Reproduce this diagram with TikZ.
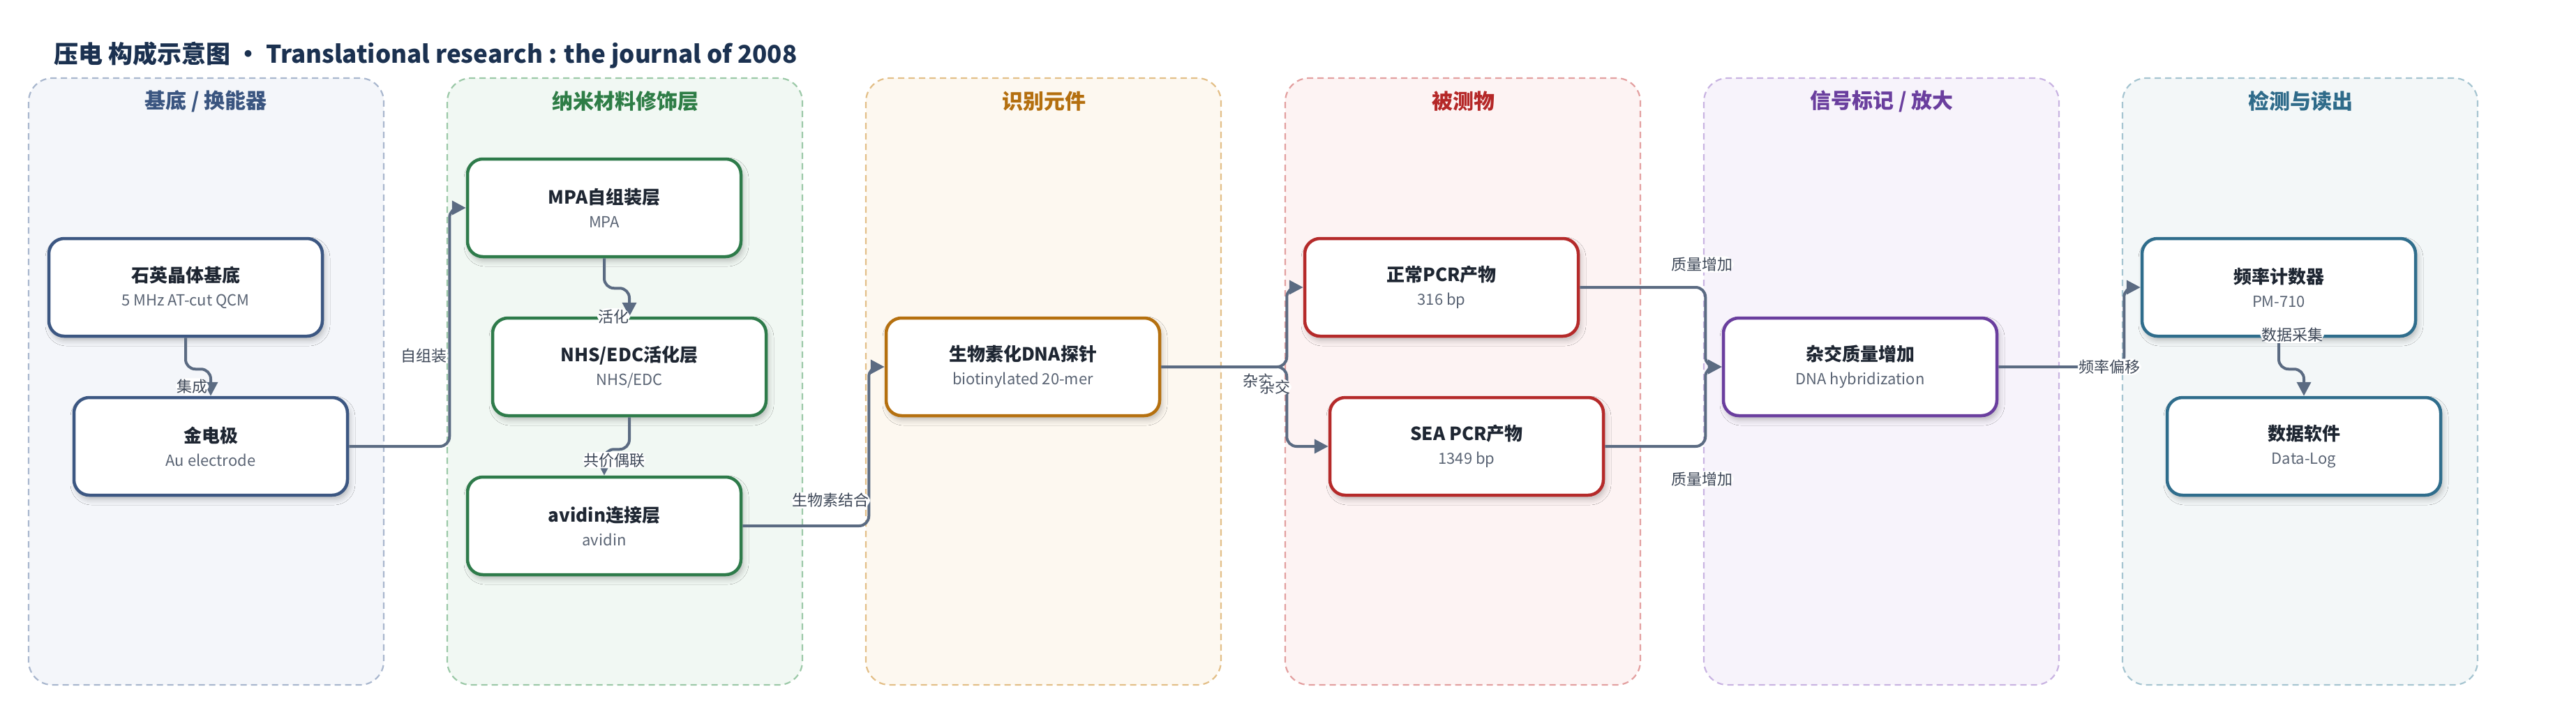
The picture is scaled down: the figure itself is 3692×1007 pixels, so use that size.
\documentclass[tikz,border=0pt]{standalone}
\usepackage{fontspec}
\setmainfont{Noto Sans CJK SC}
\usetikzlibrary{arrows.meta,shadows.blur}
\definecolor{titlec}{HTML}{1B3150}
\definecolor{edgec}{HTML}{5B6B82}
\definecolor{lblc}{HTML}{3D4757}
\definecolor{nodetxt}{HTML}{1E2632}
\definecolor{subc}{HTML}{5A6474}
\definecolor{bdA}{HTML}{A9B7CE}\definecolor{bgA}{HTML}{F4F6FA}\definecolor{hdA}{HTML}{3A5580}\definecolor{ndA}{HTML}{3C5782}
\definecolor{bdB}{HTML}{9CC9A8}\definecolor{bgB}{HTML}{F1F8F3}\definecolor{hdB}{HTML}{2E7D46}\definecolor{ndB}{HTML}{2E7B4A}
\definecolor{bdC}{HTML}{E3BF88}\definecolor{bgC}{HTML}{FDF8F0}\definecolor{hdC}{HTML}{B46F0F}\definecolor{ndC}{HTML}{B5700F}
\definecolor{bdD}{HTML}{E3A0A0}\definecolor{bgD}{HTML}{FDF3F3}\definecolor{hdD}{HTML}{B52828}\definecolor{ndD}{HTML}{B52A2A}
\definecolor{bdE}{HTML}{C9B4E2}\definecolor{bgE}{HTML}{F7F3FB}\definecolor{hdE}{HTML}{6A3E9E}\definecolor{ndE}{HTML}{6A3E9E}
\definecolor{bdF}{HTML}{A6C5D1}\definecolor{bgF}{HTML}{F3F7F8}\definecolor{hdF}{HTML}{2F6B8A}\definecolor{ndF}{HTML}{2F6D8C}
\newcommand{\boxtext}[2]{{\bfseries\fontsize{26}{34}\selectfont\color{nodetxt}#1}\\{\fontsize{22}{34}\selectfont\color{subc}#2}}

\begin{document}
\begin{tikzpicture}[x=1pt,y=-1pt,
  panel/.style={dashed,dash pattern=on 9pt off 6pt,line width=2.2pt,rounded corners=34pt},
  head/.style={font=\bfseries\fontsize{30}{34}\selectfont},
  box/.style={draw=#1,fill=white,line width=4.5pt,rounded corners=22pt,minimum width=392pt,minimum height=140pt,
    align=center,inner sep=0pt,font=\fontsize{22}{34}\selectfont,
    blur shadow={shadow xshift=3pt,shadow yshift=-6pt,shadow blur radius=8pt,shadow opacity=25}},
  link/.style={draw=edgec,line width=4pt,rounded corners=14pt,-{Triangle[length=20pt,width=20pt]}},
  lbl/.style={fill=white,text=lblc,font=\fontsize{22}{24}\selectfont,inner sep=1.5pt}]
\useasboundingbox (0,0) rectangle (3692,1007);
\node[anchor=west,inner sep=0pt,text=titlec,font=\bfseries\fontsize{35}{40}\selectfont] (ttl) at (77,79)
  {压电 构成示意图 · Translational research : the journal of 2008};

\draw[panel,draw=bdA,fill=bgA] (41,112) rectangle (550,982);
\draw[panel,draw=bdB,fill=bgB] (641,112) rectangle (1150,982);
\draw[panel,draw=bdC,fill=bgC] (1241,112) rectangle (1750,982);
\draw[panel,draw=bdD,fill=bgD] (1842,112) rectangle (2351,982);
\draw[panel,draw=bdE,fill=bgE] (2442,112) rectangle (2951,982);
\draw[panel,draw=bdF,fill=bgF] (3042,112) rectangle (3551,982);
\node[head,text=hdA] (hA) at (295,145) {基底 / 换能器};
\node[head,text=hdB] (hB) at (896,145) {纳米材料修饰层};
\node[head,text=hdC] (hC) at (1496,145) {识别元件};
\node[head,text=hdD] (hD) at (2097,145) {被测物};
\node[head,text=hdE] (hE) at (2697,145) {信号标记 / 放大};
\node[head,text=hdF] (hF) at (3297,145) {检测与读出};

\node[box=ndA] (q) at (266,412) {\boxtext{石英晶体基底}{5 MHz AT-cut QCM}};
\node[box=ndA] (au) at (302,640) {\boxtext{金电极}{Au electrode}};
\node[box=ndB] (mpa) at (866,298) {\boxtext{MPA自组装层}{MPA}};
\node[box=ndB] (nhs) at (902,526) {\boxtext{NHS/EDC活化层}{NHS/EDC}};
\node[box=ndB] (av) at (866,754) {\boxtext{avidin连接层}{avidin}};
\node[box=ndC] (pr) at (1466,526) {\boxtext{生物素化DNA探针}{biotinylated 20-mer}};
\node[box=ndD] (np) at (2066,412) {\boxtext{正常PCR产物}{316 bp}};
\node[box=ndD] (sp) at (2102,640) {\boxtext{SEA PCR产物}{1349 bp}};
\node[box=ndE] (hy) at (2666,526) {\boxtext{杂交质量增加}{DNA hybridization}};
\node[box=ndF] (fc) at (3266,412) {\boxtext{频率计数器}{PM-710}};
\node[box=ndF] (dl) at (3302,640) {\boxtext{数据软件}{Data-Log}};

\draw[link] (q.south) -- ++(0,45) -| (au.north) node[lbl,pos=1,anchor=south east,xshift=-1pt]{集成};
\draw[link] (au.east) -- ++(144,0) |- (mpa.west) node[lbl,pos=0.19,anchor=east]{自组装};
\draw[link] (mpa.south) -- ++(0,43) -| (nhs.north) node[lbl,pos=1,anchor=east,xshift=3pt]{活化};
\draw[link] (nhs.south) -- ++(0,46) -| (av.north) node[lbl,pos=1,xshift=14pt,yshift=22pt]{共价偶联};
\draw[link] (av.east) -- ++(181,0) |- (pr.west) node[lbl,pos=0.08,anchor=east,xshift=4pt]{生物素结合};
\draw[link] (pr.east) -- ++(180,0) |- (np.west) node[lbl,pos=0,xshift=-41pt,yshift=-20pt]{杂交};
\draw[link] (pr.east) -- ++(180,0) |- (sp.west) node[lbl,pos=0,xshift=-17pt,yshift=-29pt]{杂交};
\draw[link] (np.east) -- ++(180,0) |- (hy.west) node[lbl,pos=0,xshift=-5pt,yshift=33pt]{质量增加};
\draw[link] (sp.east) -- ++(144,0) |- (hy.west) node[lbl,pos=0,xshift=-5pt,yshift=-47pt]{质量增加};
\draw[link] (hy.east) -- ++(180,0) |- (fc.west) node[lbl,pos=0,xshift=-21pt]{频率偏移};
\draw[link] (fc.south) -- node[lbl,pos=0,xshift=19pt,yshift=4pt]{数据采集} ++(0,45) -| (dl.north);
\end{tikzpicture}
\end{document}
